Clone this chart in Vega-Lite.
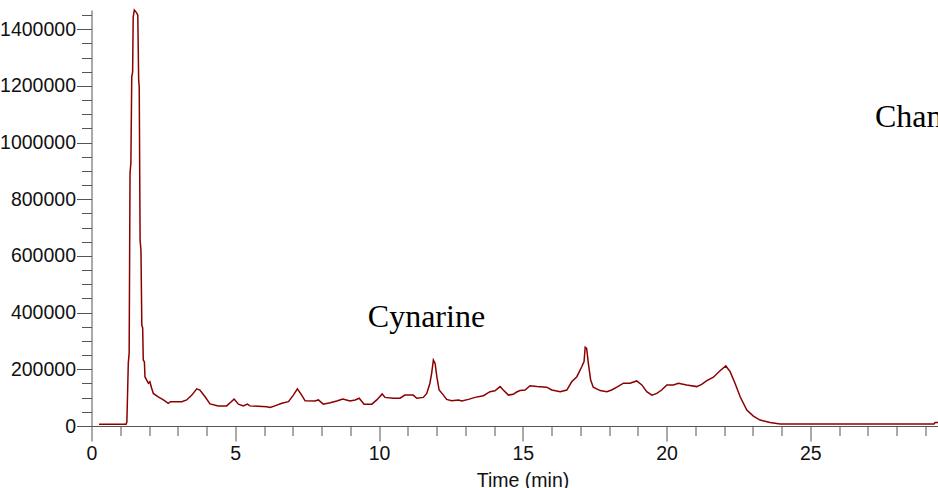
{
  "$schema": "https://vega.github.io/schema/vega-lite/v6.json",
  "width": 846.5,
  "height": 416,
  "autosize": {"type": "none"},
  "padding": {"left": 91.5, "top": 10, "right": 0, "bottom": 62},
  "background": "white",
  "config": {
    "view": {"stroke": null},
    "axis": {
      "grid": false,
      "domainColor": "#555555",
      "tickColor": "#555555",
      "domainWidth": 1,
      "tickWidth": 1,
      "labelFont": "Liberation Sans",
      "labelFontSize": 19.5,
      "labelColor": "#111111",
      "titleFont": "Liberation Sans",
      "titleFontSize": 19.5,
      "titleFontWeight": "normal",
      "titleColor": "#111111",
      "labelFlush": false
    }
  },
  "datasets": {
    "trace": [
      {"t": 0.26, "v": 6000}, {"t": 1.2, "v": 6000}, {"t": 1.23, "v": 14000},
      {"t": 1.28, "v": 222000}, {"t": 1.31, "v": 258000}, {"t": 1.34, "v": 893000},
      {"t": 1.37, "v": 928000}, {"t": 1.4, "v": 1232000}, {"t": 1.43, "v": 1249000},
      {"t": 1.45, "v": 1443000}, {"t": 1.49, "v": 1468000}, {"t": 1.57, "v": 1458000},
      {"t": 1.61, "v": 1450000}, {"t": 1.64, "v": 1221000}, {"t": 1.66, "v": 1196000},
      {"t": 1.69, "v": 656000}, {"t": 1.72, "v": 621000}, {"t": 1.75, "v": 356000},
      {"t": 1.78, "v": 346000}, {"t": 1.8, "v": 233000}, {"t": 1.84, "v": 226000},
      {"t": 1.86, "v": 173000}, {"t": 1.92, "v": 162000}, {"t": 1.98, "v": 151000},
      {"t": 2.03, "v": 156000}, {"t": 2.09, "v": 134000}, {"t": 2.15, "v": 115000},
      {"t": 2.32, "v": 103000}, {"t": 2.5, "v": 92000}, {"t": 2.67, "v": 80000},
      {"t": 2.75, "v": 86000}, {"t": 3.08, "v": 86000}, {"t": 3.14, "v": 86000},
      {"t": 3.31, "v": 92000}, {"t": 3.49, "v": 109000}, {"t": 3.66, "v": 131000},
      {"t": 3.77, "v": 127000}, {"t": 3.95, "v": 103000}, {"t": 4.12, "v": 78000},
      {"t": 4.41, "v": 71000}, {"t": 4.7, "v": 71000}, {"t": 4.84, "v": 84000},
      {"t": 4.96, "v": 95000}, {"t": 5.11, "v": 77000}, {"t": 5.28, "v": 71000},
      {"t": 5.42, "v": 77000}, {"t": 5.51, "v": 71000}, {"t": 6.09, "v": 68000},
      {"t": 6.21, "v": 65000}, {"t": 6.38, "v": 71000}, {"t": 6.62, "v": 80000},
      {"t": 6.85, "v": 86000}, {"t": 7.02, "v": 109000}, {"t": 7.16, "v": 131000},
      {"t": 7.31, "v": 109000}, {"t": 7.43, "v": 89000}, {"t": 7.77, "v": 88000},
      {"t": 7.89, "v": 92000}, {"t": 8.06, "v": 77000}, {"t": 8.3, "v": 82000},
      {"t": 8.53, "v": 88000}, {"t": 8.74, "v": 95000}, {"t": 8.99, "v": 88000},
      {"t": 9.17, "v": 92000}, {"t": 9.31, "v": 98000}, {"t": 9.48, "v": 77000},
      {"t": 9.75, "v": 77000}, {"t": 9.92, "v": 92000}, {"t": 10.11, "v": 113000},
      {"t": 10.21, "v": 101000}, {"t": 10.5, "v": 98000}, {"t": 10.73, "v": 98000},
      {"t": 10.9, "v": 109000}, {"t": 11.19, "v": 109000}, {"t": 11.31, "v": 98000},
      {"t": 11.54, "v": 101000}, {"t": 11.66, "v": 115000}, {"t": 11.77, "v": 151000},
      {"t": 11.83, "v": 186000}, {"t": 11.89, "v": 233000}, {"t": 11.95, "v": 221000},
      {"t": 12.01, "v": 174000}, {"t": 12.09, "v": 127000}, {"t": 12.24, "v": 109000},
      {"t": 12.35, "v": 94000}, {"t": 12.53, "v": 89000}, {"t": 12.76, "v": 92000},
      {"t": 12.88, "v": 88000}, {"t": 13.11, "v": 94000}, {"t": 13.34, "v": 101000},
      {"t": 13.63, "v": 107000}, {"t": 13.86, "v": 121000}, {"t": 14.03, "v": 124000},
      {"t": 14.21, "v": 139000}, {"t": 14.32, "v": 127000}, {"t": 14.5, "v": 109000},
      {"t": 14.67, "v": 112000}, {"t": 14.77, "v": 119000}, {"t": 14.9, "v": 125000},
      {"t": 15.08, "v": 127000}, {"t": 15.25, "v": 142000}, {"t": 15.49, "v": 139000},
      {"t": 15.83, "v": 137000}, {"t": 16.01, "v": 127000}, {"t": 16.3, "v": 121000},
      {"t": 16.53, "v": 127000}, {"t": 16.7, "v": 156000}, {"t": 16.88, "v": 174000},
      {"t": 17.05, "v": 209000}, {"t": 17.13, "v": 227000}, {"t": 17.17, "v": 278000},
      {"t": 17.22, "v": 274000}, {"t": 17.28, "v": 221000}, {"t": 17.36, "v": 162000},
      {"t": 17.45, "v": 137000}, {"t": 17.69, "v": 125000}, {"t": 17.92, "v": 121000},
      {"t": 18.09, "v": 127000}, {"t": 18.27, "v": 137000}, {"t": 18.5, "v": 151000},
      {"t": 18.73, "v": 151000}, {"t": 18.96, "v": 159000}, {"t": 19.14, "v": 145000},
      {"t": 19.31, "v": 121000}, {"t": 19.49, "v": 109000}, {"t": 19.66, "v": 115000},
      {"t": 19.83, "v": 127000}, {"t": 20.01, "v": 145000}, {"t": 20.24, "v": 145000},
      {"t": 20.41, "v": 151000}, {"t": 20.7, "v": 145000}, {"t": 21.05, "v": 139000},
      {"t": 21.22, "v": 147000}, {"t": 21.4, "v": 160000}, {"t": 21.63, "v": 172000},
      {"t": 21.86, "v": 195000}, {"t": 22.06, "v": 212000}, {"t": 22.21, "v": 192000},
      {"t": 22.38, "v": 151000}, {"t": 22.56, "v": 103000}, {"t": 22.79, "v": 56000},
      {"t": 23.02, "v": 35000}, {"t": 23.25, "v": 21000}, {"t": 23.6, "v": 12000},
      {"t": 23.95, "v": 7000}, {"t": 29.3, "v": 7000}, {"t": 29.34, "v": 12000},
      {"t": 29.44, "v": 12000}
    ],
    "labels": [
      {"t": 9.61, "v": 350000, "name": "Cynarine"},
      {"t": 27.25, "v": 1056000, "name": "Chan"}
    ]
  },
  "layer": [
    {
      "data": {"name": "trace"},
      "mark": {"type": "line", "color": "#8b0000", "strokeWidth": 1.5},
      "encoding": {
        "x": {
          "field": "t",
          "type": "quantitative",
          "scale": {"domain": [0, 29.44], "nice": false, "zero": false},
          "axis": {
            "title": "Time (min)",
            "values": [0,1,2,3,4,5,6,7,8,9,10,11,12,13,14,15,16,17,18,19,20,21,22,23,24,25,26,27,28,29],
            "tickCount": 200,
            "labelExpr": "datum.value % 5 === 0 ? format(datum.value, 'd') : ''",
            "labelOverlap": "greedy",
            "tickSize": {"condition": {"test": "datum.value % 5 === 0", "value": 15}, "value": 9.5},
            "labelPadding": 3,
            "titlePadding": 9,
            "titleX": 431
          }
        },
        "y": {
          "field": "v",
          "type": "quantitative",
          "scale": {"domain": [0, 1468000], "nice": false},
          "axis": {
            "title": null,
            "values": [0,50000,100000,150000,200000,250000,300000,350000,400000,450000,500000,550000,600000,650000,700000,750000,800000,850000,900000,950000,1000000,1050000,1100000,1150000,1200000,1250000,1300000,1350000,1400000,1450000],
            "tickCount": 200,
            "labelExpr": "datum.value % 200000 === 0 ? format(datum.value, 'd') : ''",
            "labelOverlap": "greedy",
            "tickSize": {"condition": {"test": "datum.value % 200000 === 0", "value": 15}, "value": 10},
            "labelPadding": 1
          }
        }
      }
    },
    {
      "data": {"name": "labels"},
      "mark": {"type": "text", "font": "Liberation Serif", "fontSize": 32, "align": "left", "baseline": "alphabetic", "color": "#000000"},
      "encoding": {
        "x": {"field": "t", "type": "quantitative"},
        "y": {"field": "v", "type": "quantitative"},
        "text": {"field": "name"}
      }
    }
  ]
}
